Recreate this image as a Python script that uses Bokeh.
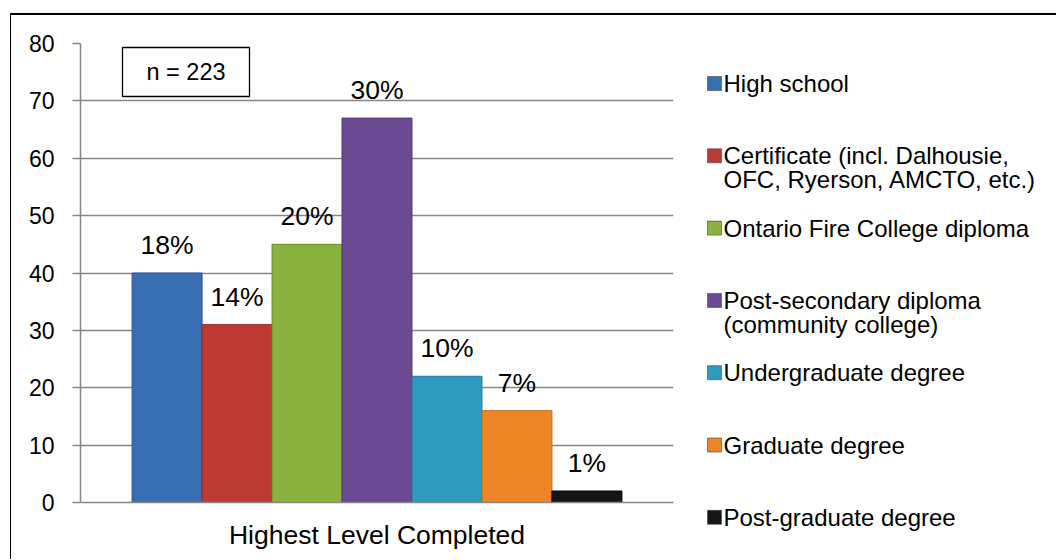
from bokeh.plotting import figure
from bokeh.layouts import row
from bokeh.models import (ColumnDataSource, FactorRange, FixedTicker, Label,
                          BoxAnnotation, Range1d)
from bokeh.transform import dodge
from bokeh.embed import file_html
from bokeh.resources import INLINE

# ---- data ----
group = "Highest Level Completed"
categories = ["High school",
              "Certificate (incl. Dalhousie,\nOFC, Ryerson, AMCTO, etc.)",
              "Ontario Fire College diploma",
              "Post-secondary diploma\n(community college)",
              "Undergraduate degree",
              "Graduate degree",
              "Post-graduate degree"]
counts = [40, 31, 45, 67, 22, 16, 2]
pct_labels = ["18%", "14%", "20%", "30%", "10%", "7%", "1%"]
colors = ["#386EB4", "#BC3934", "#8BB13E", "#6C4A93", "#2D9BBE", "#EE8627", "#151515"]
edge_colors = ["#2A5590", "#962A26", "#6C8C2C", "#533873", "#217A96", "#C46A18", "#000000"]
yticks = [0, 10, 20, 30, 40, 50, 60, 70, 80]
n_note = "n = 223"

FONT = "Liberation Sans"
GRAY = "#868686"

# page geometry (pixels)
W, H = 1057, 560
OX, OY = 11, 15            # content origin inside the outer border
FL, FR, FT, FB = 80, 673, 43, 502
SPLIT = 700                # where the legend panel starts

p = figure(width=SPLIT - OX, height=H - OY - 1,
           x_range=FactorRange(factors=[group], range_padding=0),
           y_range=(0, 80), output_backend="svg", toolbar_location=None,
           min_border_left=FL - OX, min_border_right=SPLIT - FR,
           min_border_top=FT - OY, min_border_bottom=H - 1 - FB)
p.frame_align = False
p.outline_line_color = None
p.background_fill_color = "white"
p.border_fill_color = "white"

bar_w = 0.118
for i, (v, lab, c, ec) in enumerate(zip(counts, pct_labels, colors, edge_colors)):
    src = ColumnDataSource(dict(x=[group], top=[v], label=[lab]))
    off = (i - (len(counts) - 1) / 2) * bar_w
    p.vbar(x=dodge("x", off, range=p.x_range), top="top", bottom=0, width=bar_w,
           source=src, fill_color=c, line_color=ec, line_width=1)
    p.text(x=dodge("x", off, range=p.x_range), y="top", text="label", source=src,
           text_align="center", text_baseline="alphabetic", y_offset=-28,
           text_font={"value": FONT}, text_font_size="26.5px", text_color="black")

# axes
p.yaxis.ticker = FixedTicker(ticks=yticks)
p.yaxis.axis_line_color = GRAY
p.yaxis.axis_line_width = 1.5
p.yaxis.major_tick_line_color = GRAY
p.yaxis.major_tick_line_width = 1.5
p.yaxis.major_tick_out = 8
p.yaxis.major_tick_in = 0
p.yaxis.minor_tick_line_color = None
p.yaxis.major_label_standoff = 18
p.yaxis.major_label_text_font = FONT
p.yaxis.major_label_text_font_size = "23px"
p.yaxis.major_label_text_color = "black"

p.xaxis.axis_line_color = GRAY
p.xaxis.axis_line_width = 1.5
p.xaxis.major_tick_line_color = None
p.xaxis.major_label_standoff = 11
p.xaxis.major_label_text_font = FONT
p.xaxis.major_label_text_font_size = "26.5px"
p.xaxis.major_label_text_color = "black"

p.xgrid.grid_line_color = None
p.ygrid.grid_line_color = GRAY
p.ygrid.grid_line_width = 1.5

# n box (frame-relative screen units)
p.add_layout(BoxAnnotation(left=122 - FL, right=249 - FL, top=FB - 47, bottom=FB - 96,
                           left_units="screen", right_units="screen",
                           top_units="screen", bottom_units="screen",
                           fill_color="white", fill_alpha=1.0,
                           line_color="black", line_alpha=1.0, line_width=1.3))
p.add_layout(Label(x=185.5 - FL, y=FB - 71.5, x_units="screen", y_units="screen",
                   text=n_note, text_align="center", text_baseline="middle",
                   text_font=FONT, text_font_size="23.5px", text_color="black"))

# ---- legend panel (its data units are page pixels) ----
LW = W - SPLIT + 12
LH = H - OY - 1
leg = figure(width=LW, height=LH, x_range=Range1d(SPLIT, SPLIT + LW),
             y_range=Range1d(OY + LH, OY), output_backend="svg", toolbar_location=None,
             x_axis_type=None, y_axis_type=None, min_border=0)
leg.frame_align = False
leg.outline_line_color = None
leg.xgrid.grid_line_color = None
leg.ygrid.grid_line_color = None
leg.background_fill_color = "white"
leg.border_fill_color = "white"

slot0, slot, line_h = 83, 72.3, 24
mx, mw, tx = 714, 14, 723
sq = dict(x=[], y=[], c=[])
tl = dict(x=[], y=[], t=[])
for i, (cat, c) in enumerate(zip(categories, colors)):
    yc = slot0 + i * slot
    sq["x"].append(mx); sq["y"].append(yc); sq["c"].append(c)
    for k, line in enumerate(cat.split("\n")):
        tl["x"].append(tx); tl["y"].append(yc + k * line_h); tl["t"].append(line)
leg.rect(x="x", y="y", width=mw, height=mw, fill_color="c", line_color="#444444",
         line_width=0.6, source=ColumnDataSource(sq))
leg.text(x="x", y="y", text="t", text_align="left", text_baseline="middle",
         text_font={"value": FONT}, text_font_size="24px", text_color="black",
         source=ColumnDataSource(tl))

layout = row(p, leg, styles={"border-left": "1px solid black",
                             "border-top": "2px solid black",
                             "margin-left": "10px", "margin-top": "13px",
                             "max-width": f"{W - 11}px", "overflow": "hidden"})

open("out.html", "w").write(file_html(layout, INLINE))
